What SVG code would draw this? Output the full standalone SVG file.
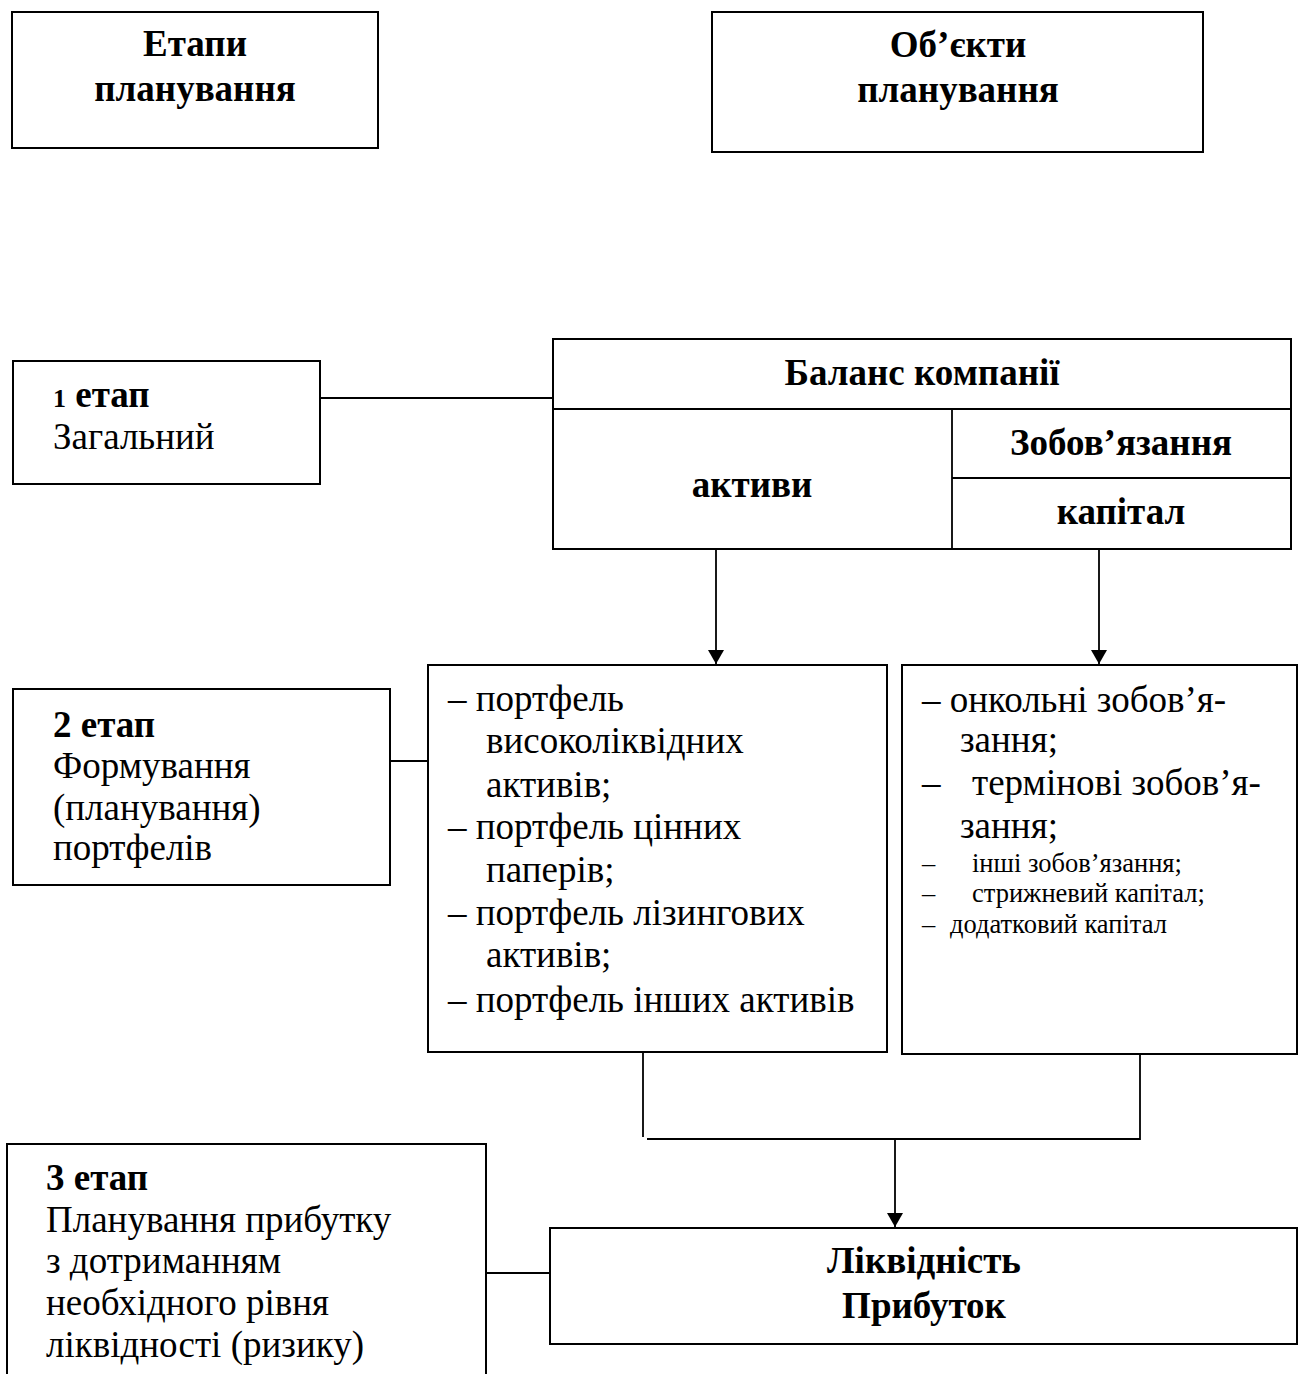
<svg xmlns="http://www.w3.org/2000/svg" width="1298" height="1374" viewBox="0 0 1298 1374">
  <style>
    .box { fill: #ffffff; stroke: #000000; stroke-width: 2; }
    .conn { fill: none; stroke: #000000; stroke-width: 1.8; }
    text { font-family: "Liberation Serif", "Times New Roman", serif; fill: #000000; }
    .t { font-size: 37px; }
    .b { font-weight: bold; }
    .sm { font-size: 26.5px; }
    .mid { text-anchor: middle; }
  </style>
  <defs>
    <marker id="arrow" markerWidth="14" markerHeight="16" refX="14" refY="8" orient="auto" markerUnits="userSpaceOnUse">
      <path d="M0,0 L14,8 L0,16 Z" fill="#000000"/>
    </marker>
  </defs>

  <rect width="1298" height="1374" fill="#ffffff"/>

  <!-- connectors -->
  <g id="connectors">
    <line class="conn" x1="320" y1="398" x2="553" y2="398"/>
    <line class="conn" x1="716" y1="549" x2="716" y2="664" marker-end="url(#arrow)"/>
    <line class="conn" x1="1099" y1="549" x2="1099" y2="664" marker-end="url(#arrow)"/>
    <line class="conn" x1="390" y1="761" x2="428" y2="761"/>
    <line class="conn" x1="643" y1="1052" x2="643" y2="1137"/>
    <polyline class="conn" points="647,1139 1140,1139 1140,1054"/>
    <line class="conn" x1="895" y1="1139" x2="895" y2="1227" marker-end="url(#arrow)"/>
    <line class="conn" x1="486" y1="1273" x2="550" y2="1273"/>
  </g>

  <!-- header: stages -->
  <g id="header-stages">
    <rect class="box" x="12" y="12" width="366" height="136"/>
    <text class="t b mid" x="195" y="56">Етапи</text>
    <text class="t b mid" x="195" y="101">планування</text>
  </g>

  <!-- header: objects -->
  <g id="header-objects">
    <rect class="box" x="712" y="12" width="491" height="140"/>
    <text class="t b mid" x="958" y="57">Об’єкти</text>
    <text class="t b mid" x="958" y="102">планування</text>
  </g>

  <!-- stage 1 -->
  <g id="stage-1">
    <rect class="box" x="13" y="361" width="307" height="123"/>
    <text class="t b" x="53" y="407"><tspan font-size="26px">1</tspan> етап</text>
    <text class="t" x="53" y="449">Загальний</text>
  </g>

  <!-- company balance table -->
  <g id="balance">
    <rect class="box" x="553" y="339" width="738" height="210"/>
    <line class="conn" x1="553" y1="409" x2="1291" y2="409" stroke-width="2"/>
    <line class="conn" x1="952" y1="409" x2="952" y2="549" stroke-width="2"/>
    <line class="conn" x1="952" y1="478" x2="1291" y2="478" stroke-width="2"/>
    <text class="t b mid" x="922" y="385">Баланс компанії</text>
    <text class="t b mid" x="752" y="497">активи</text>
    <text class="t b mid" x="1121" y="455">Зобов’язання</text>
    <text class="t b mid" x="1121" y="524">капітал</text>
  </g>

  <!-- stage 2 -->
  <g id="stage-2">
    <rect class="box" x="13" y="689" width="377" height="196"/>
    <text class="t b" x="53" y="737">2 етап</text>
    <text class="t" x="53" y="778">Формування</text>
    <text class="t" x="53" y="820">(планування)</text>
    <text class="t" x="53" y="860">портфелів</text>
  </g>

  <!-- asset portfolios -->
  <g id="asset-portfolios">
    <rect class="box" x="428" y="665" width="459" height="387"/>
    <text class="t" x="448" y="711">– портфель</text>
    <text class="t" x="486" y="753">високоліквідних</text>
    <text class="t" x="486" y="797">активів;</text>
    <text class="t" x="448" y="839">– портфель цінних</text>
    <text class="t" x="486" y="882">паперів;</text>
    <text class="t" x="448" y="925">– портфель лізингових</text>
    <text class="t" x="486" y="967">активів;</text>
    <text class="t" x="448" y="1012">– портфель інших активів</text>
  </g>

  <!-- liabilities and capital -->
  <g id="liabilities">
    <rect class="box" x="902" y="665" width="395" height="389"/>
    <text class="t" x="922" y="712">– онкольні зобов’я-</text>
    <text class="t" x="960" y="752">зання;</text>
    <text class="t" x="922" y="795">–</text>
    <text class="t" x="972" y="795">термінові зобов’я-</text>
    <text class="t" x="960" y="838">зання;</text>
    <text class="sm" x="922" y="872">–</text>
    <text class="sm" x="972" y="872">інші зобов’язання;</text>
    <text class="sm" x="922" y="902">–</text>
    <text class="sm" x="972" y="902">стрижневий капітал;</text>
    <text class="sm" x="922" y="933">–</text>
    <text class="sm" x="950" y="933">додатковий капітал</text>
  </g>

  <!-- stage 3 -->
  <g id="stage-3">
    <rect class="box" x="7" y="1144" width="479" height="250"/>
    <text class="t b" x="46" y="1190">3 етап</text>
    <text class="t" x="46" y="1232">Планування прибутку</text>
    <text class="t" x="46" y="1273">з дотриманням</text>
    <text class="t" x="46" y="1315">необхідного рівня</text>
    <text class="t" x="46" y="1357">ліквідності (ризику)</text>
  </g>

  <!-- liquidity and profit -->
  <g id="liquidity-profit">
    <rect class="box" x="550" y="1228" width="747" height="116"/>
    <text class="t b mid" x="924" y="1273">Ліквідність</text>
    <text class="t b mid" x="924" y="1318">Прибуток</text>
  </g>
</svg>
